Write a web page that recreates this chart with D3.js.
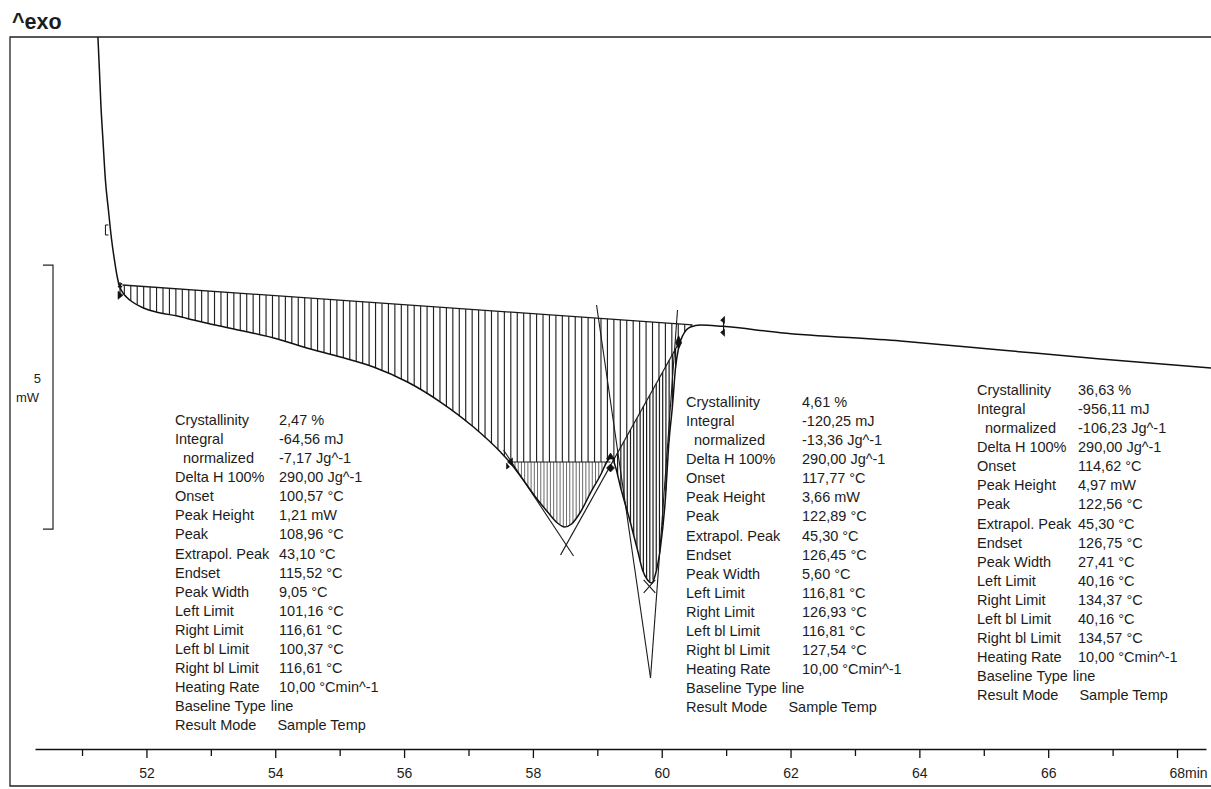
<!DOCTYPE html>
<html>
<head>
<meta charset="utf-8">
<script src="https://cdn.jsdelivr.net/npm/d3@7"></script>
<style>
  html, body { margin: 0; padding: 0; background: #fff; }
  svg { display: block; font-family: "Liberation Sans", Arial, sans-serif; }
  text { fill: #1c1c1c; }
</style>
</head>
<body>
<svg id="chart" width="1211" height="789"></svg>
<script>
// DSC heat-flow trace: time (min) against heat flow (mW), endotherms point down
const timeMin = [
  51.247, 51.270, 51.293, 51.325, 51.363, 51.410, 51.456, 51.503, 51.550, 51.581,
  51.627, 51.689, 51.783, 51.953, 52.217, 52.481, 52.730, 52.994, 53.506, 54.034,
  54.547, 55.012, 55.525, 56.053, 56.565, 57.078, 57.497, 57.652, 57.839, 58.040,
  58.242, 58.382, 58.491, 58.600, 58.739, 58.894, 59.050, 59.158, 59.221, 59.283,
  59.360, 59.516, 59.624, 59.702, 59.780, 59.842, 59.904, 59.981, 60.059, 60.106,
  60.168, 60.214, 60.261, 60.339, 60.447, 60.602, 60.944, 61.845, 63.708, 65.260,
  66.813, 68.537
];
const heatFlowMw = [
  2.000, 1.375, 0.712, 0.049, -0.708, -1.277, -1.807, -2.223, -2.564, -2.716,
  -2.830, -2.924, -3.019, -3.133, -3.227, -3.284, -3.360, -3.436, -3.568, -3.720,
  -3.909, -4.061, -4.250, -4.534, -4.913, -5.386, -5.860, -6.068, -6.371, -6.712,
  -7.015, -7.205, -7.280, -7.223, -6.996, -6.636, -6.295, -6.030, -5.955, -6.144,
  -6.523, -7.205, -7.716, -8.095, -8.284, -8.341, -8.170, -7.659, -6.712, -5.765,
  -4.970, -4.269, -3.890, -3.625, -3.492, -3.455, -3.480, -3.600, -3.758, -3.928,
  -4.098, -4.269
];

// integration baseline between the left and right limits
const baselineTime = [51.627, 60.478];
const baselineMw = [-2.697, -3.451];

// horizontal split line under the first peak
const split1Time = [57.652, 59.205];
const split1Mw = [-6.049, -6.049];

// sloped split line under the second peak (also the first peak's right tangent)
const split2Time = [58.429, 60.292];
const split2Mw = [-7.811, -3.739];

// tangent construction lines
const tangentFromTime = [57.544, 58.988, 60.245, 59.720, 59.900];
const tangentFromMw = [-5.822, -3.076, -3.170, -8.280, -8.280];
const tangentToTime = [58.631, 59.826, 59.826, 59.900, 59.720];
const tangentToMw = [-7.830, -10.140, -10.140, -8.530, -8.530];

// evaluation limit markers
const markerTime = [51.379, 51.590, 57.652, 59.205, 60.262, 60.960];
const markerMw = [-1.655, -2.740, -6.049, -6.049, -3.790, -3.480];
const markerKind = ["bracket", "leftLimit", "splitLeft", "splitRight", "solid", "rightLimit"];

// axis ticks
const tickMinutes = d3.range(51, 69);

// result tables
const resultLabels = ["Crystallinity", "Integral", "  normalized", "Delta H 100%", "Onset",
  "Peak Height", "Peak", "Extrapol. Peak", "Endset", "Peak Width", "Left Limit", "Right Limit",
  "Left bl Limit", "Right bl Limit", "Heating Rate", "Baseline Type", "Result Mode"];
const peak1Values = ["2,47 %", "-64,56 mJ", "-7,17 Jg^-1", "290,00 Jg^-1", "100,57 °C",
  "1,21 mW", "108,96 °C", "43,10 °C", "115,52 °C", "9,05 °C", "101,16 °C", "116,61 °C",
  "100,37 °C", "116,61 °C", "10,00 °Cmin^-1", "line", "Sample Temp"];
const peak2Values = ["4,61 %", "-120,25 mJ", "-13,36 Jg^-1", "290,00 Jg^-1", "117,77 °C",
  "3,66 mW", "122,89 °C", "45,30 °C", "126,45 °C", "5,60 °C", "116,81 °C", "126,93 °C",
  "116,81 °C", "127,54 °C", "10,00 °Cmin^-1", "line", "Sample Temp"];
const totalValues = ["36,63 %", "-956,11 mJ", "-106,23 Jg^-1", "290,00 Jg^-1", "114,62 °C",
  "4,97 mW", "122,56 °C", "45,30 °C", "126,75 °C", "27,41 °C", "40,16 °C", "134,37 °C",
  "40,16 °C", "134,57 °C", "10,00 °Cmin^-1", "line", "Sample Temp"];

// ---------------------------------------------------------------------------
const svg = d3.select("#chart");
const frame = { left: 10, top: 37, right: 1211, bottom: 786 };
const axisY = 749;

const x = d3.scaleLinear().domain([50.27, 68.45]).range([35, 1206]);
const y = d3.scaleLinear().domain([2, -11.5]).range([frame.top, frame.top + 13.5 * 52.8]);

const curvePts = timeMin.map((t, i) => [t, heatFlowMw[i]]);

function interp(ts, vs, t) {
  if (t <= ts[0]) return vs[0];
  if (t >= ts[ts.length - 1]) return vs[vs.length - 1];
  const i = d3.bisectRight(ts, t) - 1;
  const f = (t - ts[i]) / (ts[i + 1] - ts[i]);
  return vs[i] + f * (vs[i + 1] - vs[i]);
}
const curveAt = t => interp(timeMin, heatFlowMw, t);
const baseAt = t => interp(baselineTime, baselineMw, t);
const split2At = t => interp(split2Time, split2Mw, t);

svg.append("defs").append("clipPath").attr("id", "plotClip")
  .append("rect")
  .attr("x", frame.left).attr("y", frame.top)
  .attr("width", frame.right - frame.left).attr("height", frame.bottom - frame.top);

// page frame
svg.append("path")
  .attr("d", `M${frame.right + 2},${frame.top} H${frame.left} V${frame.bottom} H${frame.right + 2}`)
  .attr("fill", "none").attr("stroke", "#222").attr("stroke-width", 1.3);

// "^exo" direction tag
svg.append("text").attr("x", 12).attr("y", 29)
  .attr("font-size", 21.5).attr("font-weight", "bold").text("^exo");

const plot = svg.append("g").attr("clip-path", "url(#plotClip)");

// sparse hatching between the integration baseline and the trace
const sparse = [];
d3.range(baselineTime[0] + 0.03, baselineTime[1] - 0.02, 0.1).forEach(t => {
  const top = baseAt(t);
  let bottom = curveAt(t);
  if (t >= split1Time[0] && t <= split1Time[1]) bottom = Math.max(bottom, split1Mw[0]);
  if (t > split1Time[1] && t <= split2Time[1]) bottom = Math.max(bottom, split2At(t));
  if (bottom < top) sparse.push([t, top, bottom]);
});
plot.append("g").selectAll("line").data(sparse).join("line")
  .attr("x1", d => x(d[0])).attr("x2", d => x(d[0]))
  .attr("y1", d => y(d[1])).attr("y2", d => y(d[2]))
  .attr("stroke", "#222").attr("stroke-width", 1.15);

// fine hatching under the first peak's split line
const fine1 = [];
d3.range(split1Time[0] + 0.02, split1Time[1], 0.05).forEach(t => {
  const c = curveAt(t);
  if (c < split1Mw[0]) fine1.push([t, split1Mw[0], c]);
});
plot.append("g").selectAll("line").data(fine1).join("line")
  .attr("x1", d => x(d[0])).attr("x2", d => x(d[0]))
  .attr("y1", d => y(d[1])).attr("y2", d => y(d[2]))
  .attr("stroke", "#6a6a6a").attr("stroke-width", 1);

// dense hatching under the second peak's sloped split line
const fine2 = [];
d3.range(split1Time[1] + 0.01, split2Time[1], 0.05).forEach(t => {
  const c = curveAt(t), s = split2At(t);
  if (c < s) fine2.push([t, s, c]);
});
plot.append("g").selectAll("line").data(fine2).join("line")
  .attr("x1", d => x(d[0])).attr("x2", d => x(d[0]))
  .attr("y1", d => y(d[1])).attr("y2", d => y(d[2]))
  .attr("stroke", "#1a1a1a").attr("stroke-width", 1.2);

// baseline and split lines
const straight = d3.line().x(d => x(d[0])).y(d => y(d[1]));
plot.append("path")
  .attr("d", straight(baselineTime.map((t, i) => [t, baselineMw[i]])))
  .attr("fill", "none").attr("stroke", "#1a1a1a").attr("stroke-width", 1.3);
plot.append("path")
  .attr("d", straight(split1Time.map((t, i) => [t, split1Mw[i]])))
  .attr("fill", "none").attr("stroke", "#1a1a1a").attr("stroke-width", 1.2);
plot.append("path")
  .attr("d", straight(split2Time.map((t, i) => [t, split2Mw[i]])))
  .attr("fill", "none").attr("stroke", "#1a1a1a").attr("stroke-width", 1.2);

// tangent construction lines
plot.append("g").selectAll("line").data(tangentFromTime.map((t, i) => i)).join("line")
  .attr("x1", i => x(tangentFromTime[i])).attr("y1", i => y(tangentFromMw[i]))
  .attr("x2", i => x(tangentToTime[i])).attr("y2", i => y(tangentToMw[i]))
  .attr("stroke", "#1a1a1a").attr("stroke-width", 1.1);

// the measured trace
plot.append("path")
  .attr("d", d3.line().x(d => x(d[0])).y(d => y(d[1])).curve(d3.curveMonotoneX)(curvePts))
  .attr("fill", "none").attr("stroke", "#111").attr("stroke-width", 1.5);

// limit markers
const mk = plot.append("g").attr("fill", "#111").attr("stroke", "#111");
markerKind.forEach((kind, i) => {
  const px = x(markerTime[i]), py = y(markerMw[i]);
  if (kind === "bracket") {
    mk.append("path").attr("d", `M${px + 2},${py - 5} H${px - 1} V${py + 5} H${px + 2}`)
      .attr("fill", "none").attr("stroke-width", 1);
  } else if (kind === "leftLimit") {
    mk.append("path").attr("d", `M${px - 2},${py - 4} L${px + 2},${py} M${px + 2},${py - 4} L${px - 2},${py} M${px},${py - 5} V${py + 9}`)
      .attr("fill", "none").attr("stroke-width", 1.2);
    mk.append("path").attr("d", `M${px - 2},${py + 4} L${px + 3},${py + 8} L${px - 2},${py + 12} Z`)
      .attr("stroke-width", 0.6);
  } else if (kind === "splitLeft") {
    mk.append("path").attr("d", `M${px + 2},${py - 4} L${px - 3},${py} L${px + 2},${py + 4} Z`)
      .attr("stroke-width", 0.6);
    mk.append("path").attr("d", `M${px - 4},${py + 1} L${px - 1},${py + 5} L${px - 4},${py + 7} Z`)
      .attr("stroke-width", 0.6);
  } else if (kind === "splitRight") {
    mk.append("path").attr("d", `M${px - 4},${py - 3} L${px},${py - 9} L${px + 4},${py - 3} Z`)
      .attr("stroke-width", 0.6);
    mk.append("path").attr("d", `M${px},${py + 2} L${px + 4},${py + 6} L${px},${py + 10} L${px - 4},${py + 6} Z`)
      .attr("stroke-width", 0.6);
  } else if (kind === "solid") {
    mk.append("path").attr("d", `M${px},${py - 7} L${px + 3},${py} L${px},${py + 6} L${px - 3},${py} Z`)
      .attr("stroke-width", 0.8);
  } else if (kind === "rightLimit") {
    mk.append("path").attr("d", `M${px},${py - 8} V${py + 8}`).attr("fill", "none").attr("stroke-width", 1.2);
    mk.append("path").attr("d", `M${px + 1},${py - 10} L${px - 3},${py - 6} L${px + 1},${py - 3} Z`)
      .attr("stroke-width", 0.6);
    mk.append("path").attr("d", `M${px + 1},${py + 3} L${px - 3},${py + 6} L${px + 1},${py + 10} Z`)
      .attr("stroke-width", 0.6);
  }
});

// 5 mW scale bar
const barTop = -2.32, barSpan = 5;
svg.append("path")
  .attr("d", `M43,${y(barTop)} H53 V${y(barTop - barSpan)} H43`)
  .attr("fill", "none").attr("stroke", "#222").attr("stroke-width", 1.2);
svg.append("text").attr("x", 41).attr("y", y(barTop - barSpan / 2) - 14)
  .attr("text-anchor", "end").attr("font-size", 13).text(barSpan);
svg.append("text").attr("x", 39).attr("y", y(barTop - barSpan / 2) + 5)
  .attr("text-anchor", "end").attr("font-size", 13).text("mW");

// time axis
const axisG = svg.append("g").attr("transform", `translate(0,${axisY})`)
  .call(d3.axisBottom(x).tickValues(tickMinutes).tickSizeOuter(0)
    .tickFormat(d => (d % 2 === 0 ? d : "")));
axisG.select(".domain").attr("stroke", "#111").attr("stroke-width", 1.5);
axisG.selectAll(".tick line")
  .attr("y2", d => (d % 2 === 0 ? 9 : 7))
  .attr("stroke", "#111").attr("stroke-width", 1.3);
axisG.selectAll(".tick text")
  .attr("y", 29).attr("dy", 0)
  .attr("font-family", "'Liberation Sans', Arial, sans-serif")
  .attr("font-size", 14).attr("fill", "#1c1c1c");
axisG.selectAll(".tick").filter(d => d === tickMinutes[tickMinutes.length - 1])
  .select("text").attr("text-anchor", "start").attr("x", -8)
  .text(d => d + "min");

// result tables
const rowStep = 19.08;
function resultTable(labelX, valueX, firstY, values) {
  const g = svg.append("g").attr("font-size", 14.5);
  resultLabels.forEach((lab, i) => {
    const ty = firstY + i * rowStep;
    const lt = g.append("text").attr("x", labelX).attr("y", ty)
      .style("white-space", "pre").text(lab);
    let vx = valueX;
    if (lab === "Baseline Type") vx = labelX + lt.node().getComputedTextLength() + 5;
    if (lab === "Result Mode") vx = labelX + lt.node().getComputedTextLength() + 21;
    g.append("text").attr("x", vx).attr("y", ty).text(values[i]);
  });
}
resultTable(175, 279, 425, peak1Values);
resultTable(686, 802, 407, peak2Values);
resultTable(977, 1078, 395, totalValues);
</script>
</body>
</html>
